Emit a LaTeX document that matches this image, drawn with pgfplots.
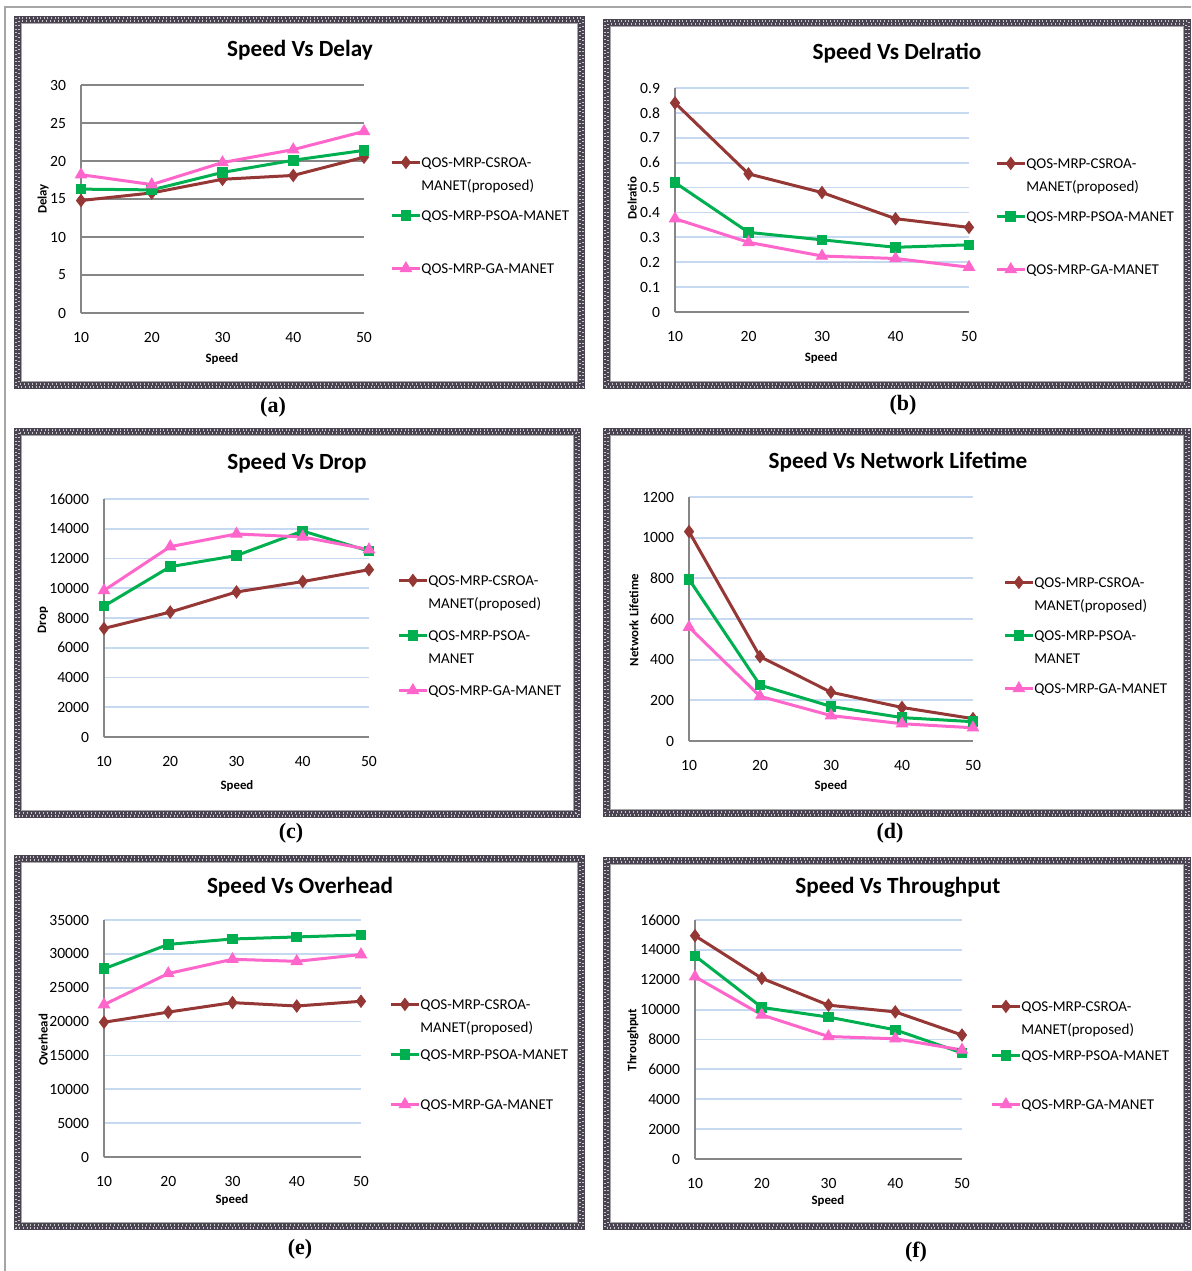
\documentclass[border=0pt]{standalone}
\usepackage{fontspec}
\setmainfont{Carlito}
\newfontfamily\capfont{Liberation Serif}
\usepackage{pgfplots}
\pgfplotsset{compat=1.18}
\definecolor{cs}{RGB}{149,55,53}
\definecolor{ps}{RGB}{0,176,80}
\definecolor{ga}{RGB}{255,102,204}
\definecolor{gridblue}{RGB}{198,217,241}
\definecolor{axgray}{RGB}{134,134,134}
\definecolor{framec}{RGB}{74,68,82}
\newcommand{\lgent}[2]{\smash{\parbox[t]{90pt}{#2}}\rule[-#1]{0pt}{\dimexpr #1+7pt\relax}}
\newcommand{\panelframe}[4]{%
  \draw[framec, line width=3.5pt] (#1+3.5,#2+3.5) rectangle (#3-3.5,#4-3.5);
  \draw[white!55!gray, line width=0.6pt, dash pattern=on 0.5pt off 1.3pt] (#1+2,#2+2) rectangle (#3-2,#4-2);
  \draw[white!55!gray, line width=0.6pt, dash pattern=on 0.5pt off 1.5pt] (#1+5,#2+5) rectangle (#3-5,#4-5);
  \draw[gray!70, line width=0.5pt] (#1+7.5,#2+7.5) rectangle (#3-7.5,#4-7.5);
}
\pgfplotsset{
  panel/.style={
    scale only axis, clip=false, anchor=south west,
    xmin=10, xmax=50, xtick={10,20,30,40,50}, ymin=0,
    axis x line*=bottom, axis y line*=left,
    axis line style={axgray, line width=1pt, -},
    major tick length=0pt, ymajorgrids,
    major grid style={gridblue, line width=0.9pt},
    tick label style={font=\fontsize{7.8}{9}\selectfont},
    /pgf/number format/assume math mode=true,
    /pgf/number format/1000 sep={},
    scaled y ticks=false,
    yticklabel style={xshift=-4pt},
    xticklabel style={yshift=-6pt},
    title style={font=\bfseries\fontsize{11.6}{14}\selectfont, anchor=center, yshift=-6pt},
    label style={font=\bfseries\fontsize{6.4}{7}\selectfont},
    legend style={draw=none, fill=none, inner sep=0pt, anchor=north west, row sep=0pt,
      cells={anchor=base west},
      nodes={inner sep=0pt, inner xsep=0pt, text depth={}, font=\fontsize{7.5}{11.5}\selectfont}},
    legend image code/.code={\draw[mark repeat=2,mark phase=2,##1] plot coordinates {(0pt,2.5pt)(7pt,2.5pt)(14pt,2.5pt)};},
  },
  s1/.style={cs, line width=1.5pt, mark=diamond*, mark size=3pt, mark options={solid, fill=cs, line width=0.5pt}},
  s2/.style={ps, line width=1.5pt, mark=square*, mark size=2.4pt, mark options={solid, fill=ps, line width=0.5pt}},
  s3/.style={ga, line width=1.5pt, mark=triangle*, mark size=3.2pt, mark options={solid, fill=ga, line width=0.5pt}},
}
\begin{document}
\begin{tikzpicture}[x=0.5pt, y=-0.5pt]
\useasboundingbox (0,0) rectangle (1191,1271);
\fill[white] (0,0) rectangle (1191,1271);
\draw[gray!70, line width=0.6pt] (5,1271) -- (5,7) -- (1191,7);
\panelframe{14}{16}{585}{389}
\panelframe{603}{19}{1191}{389}
\panelframe{14}{428}{581}{818}
\panelframe{603}{428}{1191}{817}
\panelframe{14}{855}{585}{1230}
\panelframe{603}{857}{1191}{1230}

% (a)
\begin{axis}[panel, at={(40.5pt,-156.5pt)}, width=141.5pt, height=114pt,
  ymax=30, ytick={0,5,10,15,20,25,30},
  major grid style={axgray, line width=0.8pt},
  title={Speed Vs Delay}, title style={at={(axis description cs:0.774,1.1535)}},
  xlabel={Speed}, xlabel style={at={(axis description cs:0.498,-0.2018)}, anchor=center},
  ylabel={Delay}, ylabel style={at={(axis description cs:-0.134,0.5)}, anchor=center},
  legend style={at={(axis description cs:1.0919,0.7018)}}]
\addplot[s1] coordinates {(10,14.8) (20,15.8) (30,17.6) (40,18.1) (50,20.5)};
\addlegendentry{\lgent{19.5pt}{QOS-MRP-CSROA-\\MANET(proposed)}}
\addplot[s2] coordinates {(10,16.3) (20,16.2) (30,18.5) (40,20.1) (50,21.4)};
\addlegendentry{\lgent{19.5pt}{QOS-MRP-PSOA-MANET}}
\addplot[s3] coordinates {(10,18.2) (20,16.9) (30,19.8) (40,21.5) (50,23.9)};
\addlegendentry{\lgent{19.5pt}{QOS-MRP-GA-MANET}}
\end{axis}

% (b)
\begin{axis}[panel, at={(337.5pt,-156pt)}, width=147pt, height=112pt,
  ymax=0.9, ytick={0,0.1,0.2,0.3,0.4,0.5,0.6,0.7,0.8,0.9},
  title={Speed Vs Delratio}, title style={at={(axis description cs:0.755,1.156)}},
  xlabel={Speed}, xlabel style={at={(axis description cs:0.497,-0.205)}, anchor=center},
  ylabel={Delratio}, ylabel style={at={(axis description cs:-0.146,0.509)}, anchor=center},
  legend style={at={(axis description cs:1.088,0.7054)}}]
\addplot[s1] coordinates {(10,0.84) (20,0.555) (30,0.48) (40,0.375) (50,0.34)};
\addlegendentry{\lgent{19.5pt}{QOS-MRP-CSROA-\\MANET(proposed)}}
\addplot[s2] coordinates {(10,0.52) (20,0.32) (30,0.29) (40,0.26) (50,0.27)};
\addlegendentry{\lgent{19.5pt}{QOS-MRP-PSOA-MANET}}
\addplot[s3] coordinates {(10,0.375) (20,0.28) (30,0.225) (40,0.215) (50,0.18)};
\addlegendentry{\lgent{19.5pt}{QOS-MRP-GA-MANET}}
\end{axis}

% (c)
\begin{axis}[panel, at={(52pt,-368.5pt)}, width=132.5pt, height=119pt,
  ymax=16000, ytick={0,2000,4000,6000,8000,10000,12000,14000,16000},
  title={Speed Vs Drop}, title style={at={(axis description cs:0.728,1.151)}},
  xlabel={Speed}, xlabel style={at={(axis description cs:0.502,-0.206)}, anchor=center},
  ylabel={Drop}, ylabel style={at={(axis description cs:-0.230,0.4916)}, anchor=center},
  legend style={at={(axis description cs:1.1057,0.6975)}}]
\addplot[s1] coordinates {(10,7300) (20,8400) (30,9750) (40,10450) (50,11250)};
\addlegendentry{\lgent{20.5pt}{QOS-MRP-CSROA-\\MANET(proposed)}}
\addplot[s2] coordinates {(10,8800) (20,11450) (30,12200) (40,13850) (50,12500)};
\addlegendentry{\lgent{20.5pt}{QOS-MRP-PSOA-\\MANET}}
\addplot[s3] coordinates {(10,9850) (20,12800) (30,13650) (40,13450) (50,12600)};
\addlegendentry{\lgent{20.5pt}{QOS-MRP-GA-MANET}}
\end{axis}

% (d)
\begin{axis}[panel, at={(344.5pt,-370.5pt)}, width=142pt, height=122pt,
  ymax=1200, ytick={0,200,400,600,800,1000,1200},
  title={Speed Vs Network Lifetime}, title style={at={(axis description cs:0.736,1.143)}},
  xlabel={Speed}, xlabel style={at={(axis description cs:0.5,-0.184)}, anchor=center},
  ylabel={Network Lifetime}, ylabel style={at={(axis description cs:-0.194,0.496)}, anchor=center},
  legend style={at={(axis description cs:1.1056,0.6885)}}]
\addplot[s1] coordinates {(10,1030) (20,415) (30,240) (40,165) (50,110)};
\addlegendentry{\lgent{19.5pt}{QOS-MRP-CSROA-\\MANET(proposed)}}
\addplot[s2] coordinates {(10,795) (20,275) (30,170) (40,115) (50,95)};
\addlegendentry{\lgent{19.5pt}{QOS-MRP-PSOA-\\MANET}}
\addplot[s3] coordinates {(10,560) (20,220) (30,125) (40,85) (50,65)};
\addlegendentry{\lgent{19.5pt}{QOS-MRP-GA-MANET}}
\end{axis}

% (e)
\begin{axis}[panel, at={(52pt,-578.5pt)}, width=128.5pt, height=118.5pt,
  ymax=35000, ytick={0,5000,10000,15000,20000,25000,30000,35000},
  title={Speed Vs Overhead}, title style={at={(axis description cs:0.763,1.139)}},
  xlabel={Speed}, xlabel style={at={(axis description cs:0.498,-0.181)}, anchor=center},
  ylabel={Overhead}, ylabel style={at={(axis description cs:-0.237,0.494)}, anchor=center},
  legend style={at={(axis description cs:1.109,0.6835)}}]
\addplot[s1] coordinates {(10,19900) (20,21400) (30,22800) (40,22300) (50,23000)};
\addlegendentry{\lgent{18pt}{QOS-MRP-CSROA-\\MANET(proposed)}}
\addplot[s2] coordinates {(10,27800) (20,31400) (30,32200) (40,32500) (50,32800)};
\addlegendentry{\lgent{18pt}{QOS-MRP-PSOA-MANET}}
\addplot[s3] coordinates {(10,22500) (20,27100) (30,29200) (40,28900) (50,29900)};
\addlegendentry{\lgent{18pt}{QOS-MRP-GA-MANET}}
\end{axis}

% (f)
\begin{axis}[panel, at={(347.5pt,-579.5pt)}, width=133.5pt, height=119.5pt,
  ymax=16000, ytick={0,2000,4000,6000,8000,10000,12000,14000,16000},
  title={Speed Vs Throughput}, title style={at={(axis description cs:0.760,1.138)}},
  xlabel={Speed}, xlabel style={at={(axis description cs:0.498,-0.176)}, anchor=center},
  ylabel={Throughput}, ylabel style={at={(axis description cs:-0.232,0.498)}, anchor=center},
  legend style={at={(axis description cs:1.105,0.6778)}}]
\addplot[s1] coordinates {(10,14950) (20,12100) (30,10300) (40,9850) (50,8300)};
\addlegendentry{\lgent{17.5pt}{QOS-MRP-CSROA-\\MANET(proposed)}}
\addplot[s2] coordinates {(10,13600) (20,10150) (30,9500) (40,8650) (50,7100)};
\addlegendentry{\lgent{17.5pt}{QOS-MRP-PSOA-MANET}}
\addplot[s3] coordinates {(10,12200) (20,9650) (30,8200) (40,8050) (50,7300)};
\addlegendentry{\lgent{17.5pt}{QOS-MRP-GA-MANET}}
\end{axis}

\begin{scope}[font=\capfont\bfseries\fontsize{11}{13}\selectfont]
\node at (273,407) {(a)};
\node at (903,405) {(b)};
\node at (291,833) {(c)};
\node at (890,833) {(d)};
\node at (300,1249) {(e)};
\node at (916,1252) {(f)};
\end{scope}
\end{tikzpicture}
\end{document}
